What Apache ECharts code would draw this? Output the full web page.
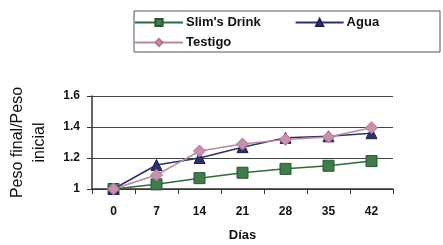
<!DOCTYPE html>
<html>
<head>
<meta charset="utf-8">
<script src="https://cdn.jsdelivr.net/npm/echarts@6/dist/echarts.min.js"></script>
<style>
  html, body { margin: 0; padding: 0; background: #fff; }
  #chart { width: 443px; height: 245px; }
</style>
</head>
<body>
<div id="chart"></div>
<script>
// dias de medicion
const dias = ['0', '7', '14', '21', '28', '35', '42'];
// peso final / peso inicial
const slims = [1.0, 1.03, 1.07, 1.105, 1.13, 1.15, 1.18];
const agua = [1.0, 1.155, 1.2, 1.27, 1.33, 1.34, 1.36];
const testigo = [1.0, 1.09, 1.245, 1.29, 1.32, 1.335, 1.395];

const chart = echarts.init(document.getElementById('chart'), null, { renderer: 'canvas' });

const font = 'Liberation Sans, Arial, sans-serif';
const legendText = { fontFamily: font, fontSize: 13, color: '#111', fontWeight: 'bold', padding: [0, 0, 0, -2] };

chart.setOption({
    animation: false,
    graphic: [{
        type: 'rect',
        shape: { x: 134, y: 11, width: 306, height: 41 },
        style: { fill: 'none', stroke: '#555', lineWidth: 1 }
    }],
    legend: [{
        left: 134,
        top: 16,
        itemWidth: 48,
        itemHeight: 9,
        itemGap: 34,
        padding: 0,
        textStyle: legendText,
        data: ["Slim's Drink", 'Agua']
    }, {
        left: 134,
        top: 36,
        itemWidth: 48,
        itemHeight: 9,
        padding: 0,
        textStyle: legendText,
        data: ['Testigo']
    }],
    grid: { left: 92, right: 50, top: 96, bottom: 56, outerBoundsMode: 'none' },
    xAxis: {
        type: 'category',
        data: dias,
        boundaryGap: true,
        name: 'Días',
        nameLocation: 'middle',
        nameGap: 40,
        nameTextStyle: { fontFamily: font, fontSize: 13, color: '#111', fontWeight: 'bold' },
        axisLine: { lineStyle: { color: '#333', width: 1.5 } },
        axisTick: { show: true, length: 5, lineStyle: { color: '#333' } },
        axisLabel: { fontFamily: font, fontSize: 12, color: '#111', fontWeight: 'bold', margin: 17 }
    },
    yAxis: {
        type: 'value',
        min: 1,
        max: 1.6,
        interval: 0.2,
        name: 'Peso final/Peso\ninicial',
        nameLocation: 'middle',
        nameGap: 41,
        nameRotate: 90,
        nameTextStyle: { fontFamily: font, fontSize: 16, color: '#111', lineHeight: 22 },
        axisLine: { show: true, lineStyle: { color: '#333', width: 1.5 } },
        axisTick: { show: true, length: 5, lineStyle: { color: '#333' } },
        axisLabel: {
            fontFamily: font, fontSize: 12, color: '#111', fontWeight: 'bold', margin: 12,
            formatter: v => (Math.abs(v - 1) < 1e-9 ? '1' : v.toFixed(1))
        },
        splitLine: { show: true, lineStyle: { color: '#444', width: 1 } }
    },
    series: [
        {
            name: "Slim's Drink",
            type: 'line',
            data: slims,
            symbol: 'rect',
            symbolSize: 11,
            itemStyle: { color: '#3f7d4c', borderColor: '#2a5533', borderWidth: 1 },
            lineStyle: { color: '#2f6a3b', width: 1.5 }
        },
        {
            name: 'Agua',
            type: 'line',
            data: agua,
            symbol: 'triangle',
            symbolSize: 11,
            itemStyle: { color: '#2d3168', borderColor: '#1d2050', borderWidth: 1 },
            lineStyle: { color: '#2d3168', width: 1.5 }
        },
        {
            name: 'Testigo',
            type: 'line',
            data: testigo,
            symbol: 'diamond',
            symbolSize: 12,
            itemStyle: { color: '#c98fae', borderColor: '#b07596', borderWidth: 1 },
            lineStyle: { color: '#b58aa2', width: 1.5 }
        }
    ]
});
</script>
</body>
</html>
